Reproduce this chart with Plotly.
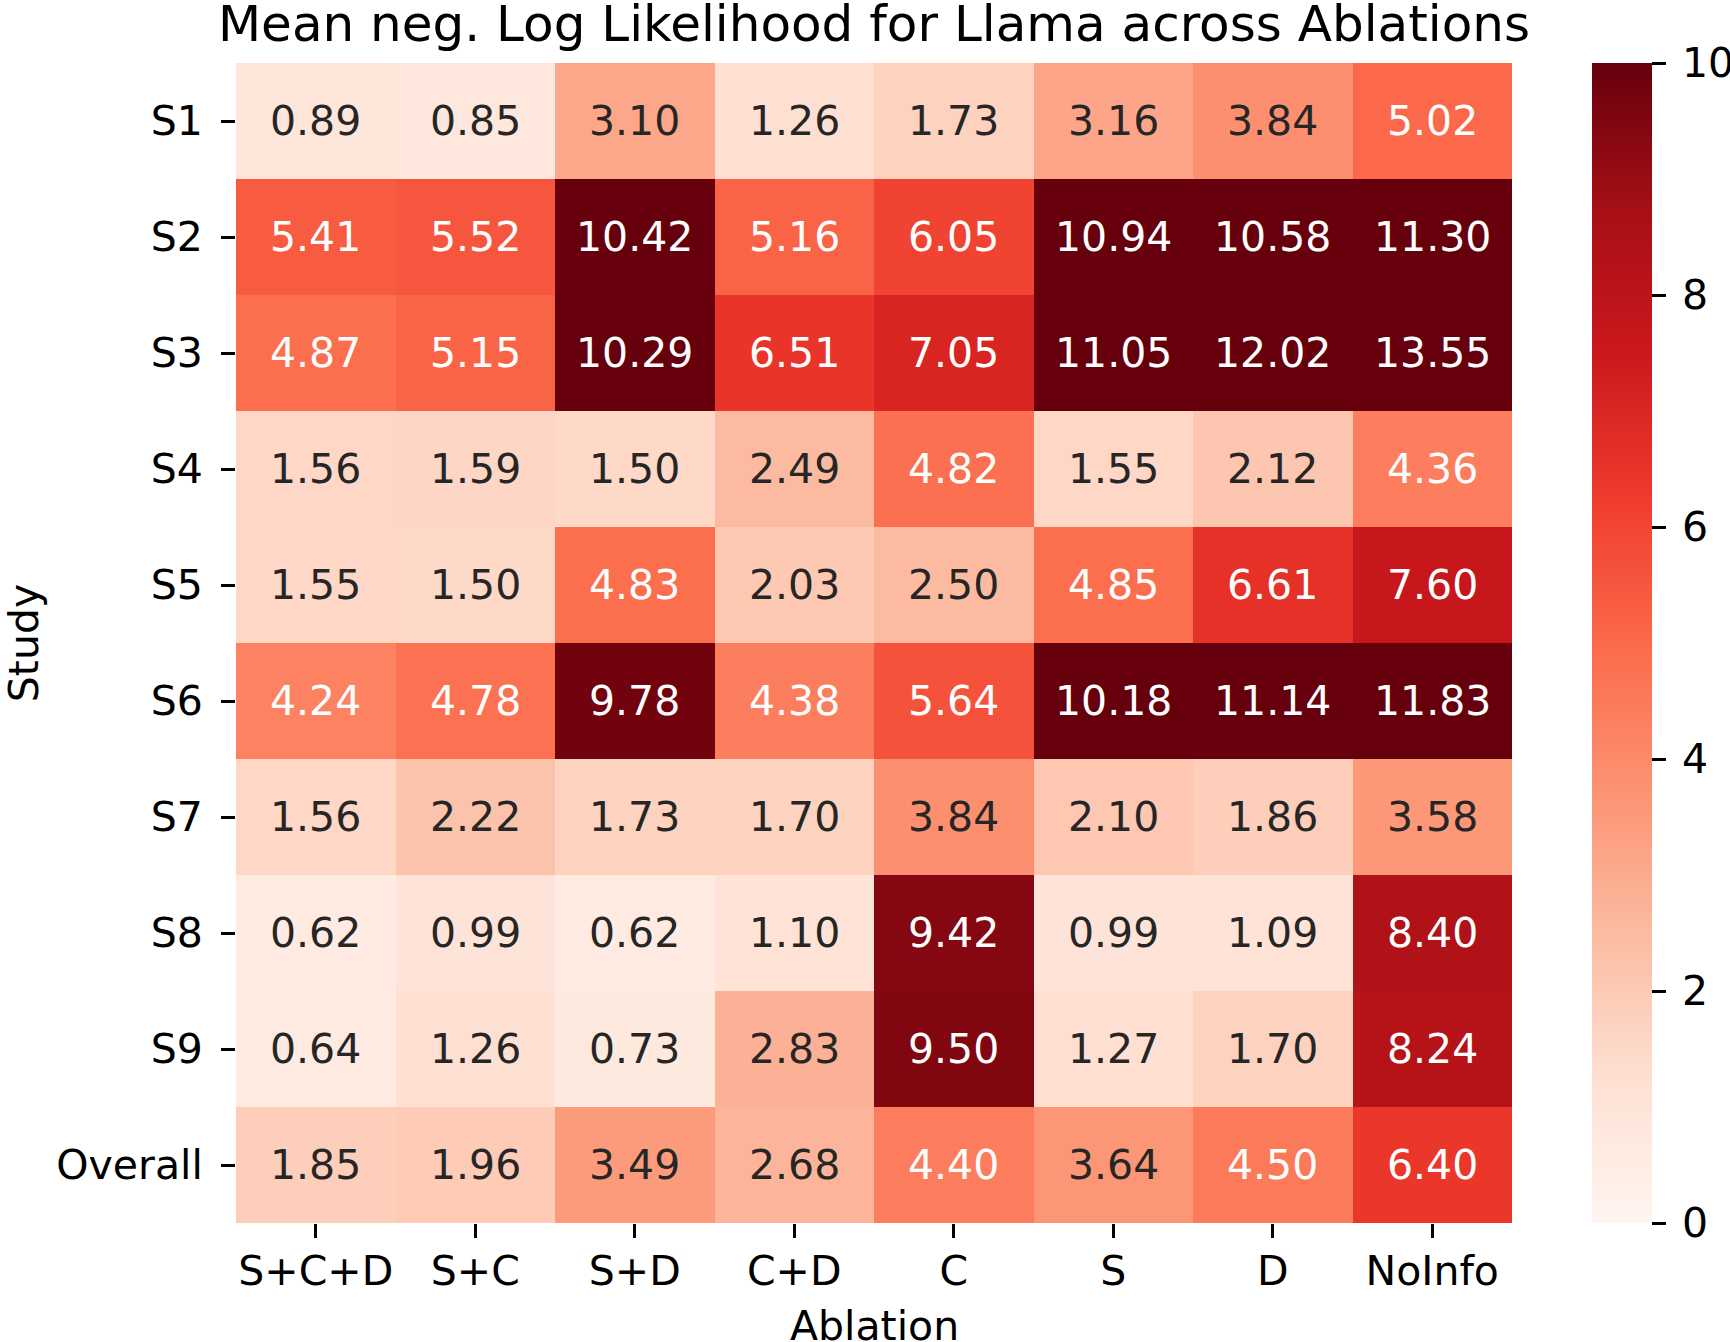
import plotly.graph_objects as go

ablations = ["S+C+D", "S+C", "S+D", "C+D", "C", "S", "D", "NoInfo"]
studies = ["S1", "S2", "S3", "S4", "S5", "S6", "S7", "S8", "S9", "Overall"]

s1 = [0.89, 0.85, 3.10, 1.26, 1.73, 3.16, 3.84, 5.02]
s2 = [5.41, 5.52, 10.42, 5.16, 6.05, 10.94, 10.58, 11.30]
s3 = [4.87, 5.15, 10.29, 6.51, 7.05, 11.05, 12.02, 13.55]
s4 = [1.56, 1.59, 1.50, 2.49, 4.82, 1.55, 2.12, 4.36]
s5 = [1.55, 1.50, 4.83, 2.03, 2.50, 4.85, 6.61, 7.60]
s6 = [4.24, 4.78, 9.78, 4.38, 5.64, 10.18, 11.14, 11.83]
s7 = [1.56, 2.22, 1.73, 1.70, 3.84, 2.10, 1.86, 3.58]
s8 = [0.62, 0.99, 0.62, 1.10, 9.42, 0.99, 1.09, 8.40]
s9 = [0.64, 1.26, 0.73, 2.83, 9.50, 1.27, 1.70, 8.24]
overall = [1.85, 1.96, 3.49, 2.68, 4.40, 3.64, 4.50, 6.40]

z = [s1, s2, s3, s4, s5, s6, s7, s8, s9, overall]

cbar_ticks = [0, 2, 4, 6, 8, 10]

reds = ["#fff5f0", "#fee0d2", "#fcbba1", "#fc9272", "#fb6a4a",
        "#ef3b2c", "#cb181d", "#a50f15", "#67000d"]
colorscale = [[i / (len(reds) - 1), c] for i, c in enumerate(reds)]

FONT = "DejaVu Sans"
FS = 41

fig = go.Figure(go.Heatmap(
    z=z, x=ablations, y=studies,
    colorscale=colorscale, zmin=0, zmax=10,
    xgap=0, ygap=0,
    hoverinfo="skip",
    colorbar=dict(
        thickness=60, len=1, lenmode="fraction", y=0.5, yanchor="middle",
        x=(1592 - 236) / 1276, xanchor="left", outlinewidth=0,
        xpad=0, ypad=0,
        tickvals=cbar_ticks, ticktext=["\u2009" + str(t) for t in cbar_ticks],
        ticks="outside", ticklen=14,
        tickwidth=2.5, tickcolor="black",
        tickfont=dict(family=FONT, size=FS, color="black"),
    ),
))

annotations = []
for r, row in enumerate(z):
    for c, v in enumerate(row):
        annotations.append(dict(
            x=ablations[c], y=studies[r], text=f"{v:.2f}", showarrow=False,
            font=dict(family=FONT, size=FS,
                      color="white" if v > 4.0 else "#262626"),
        ))

# x-axis title placed as an annotation so it can sit at the bottom edge
annotations.append(dict(
    text="Ablation", xref="paper", yref="paper", x=0.5,
    y=(1223 - 1326) / 1160, xanchor="center", yanchor="middle",
    showarrow=False, font=dict(family=FONT, size=FS, color="black"),
))

fig.update_layout(
    width=1730, height=1342,
    margin=dict(l=236, r=218, t=63, b=119, autoexpand=False),
    paper_bgcolor="white", plot_bgcolor="white",
    title=dict(text="Mean neg. Log Likelihood for Llama across Ablations",
               x=0.5, xref="paper", y=1 - 23 / 1342, yref="container",
               xanchor="center", yanchor="middle",
               font=dict(family=FONT, size=50, color="black")),
    annotations=annotations,
    xaxis=dict(ticks="outside", ticklen=14, tickwidth=2.5, tickcolor="black",
               showgrid=False, zeroline=False, showline=False,
               ticklabelstandoff=-2,
               tickfont=dict(family=FONT, size=FS, color="black")),
    yaxis=dict(ticks="outside", ticklen=14, tickwidth=2.5, tickcolor="black",
               autorange="reversed", showgrid=False, zeroline=False,
               showline=False, ticklabelstandoff=10,
               tickfont=dict(family=FONT, size=FS, color="black"),
               title=dict(text="Study", standoff=22,
                          font=dict(family=FONT, size=FS, color="black"))),
)

fig.write_html("out.html")
